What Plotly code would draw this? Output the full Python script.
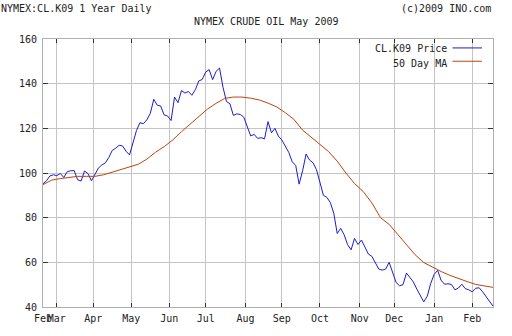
import pandas as pd
import plotly.graph_objects as go

# ---------------- text ----------------
title_left = "NYMEX:CL.K09 1 Year Daily"
title_center = "NYMEX CRUDE OIL May 2009"
copyright_text = "(c)2009 INO.com"
series_names = ["CL.K09 Price", "50 Day MA"]

# ---------------- data ----------------
start_date = "2008-02-20"
end_date = "2009-02-18"

price = [
    95.2, 96.5, 98.7, 99.2, 98.8, 99.8, 98.0, 100.6, 101.0, 101.1,
    97.0, 96.4, 100.9, 99.7, 96.5, 99.4, 102.2, 103.6, 104.5, 106.9,
    110.1, 111.1, 112.4, 112.1, 109.7, 108.1, 114.1, 119.0, 122.5, 122.1,
    123.8, 126.7, 133.0, 130.4, 130.0, 126.0, 125.5, 123.5, 134.0, 131.5,
    136.9, 135.8, 136.5, 134.8, 137.3, 141.2, 141.9, 145.2, 146.3, 141.8,
    145.5, 147.0, 138.4, 132.0, 131.0, 125.8, 126.5, 126.2, 125.0, 121.0,
    116.6, 117.3, 115.5, 115.8, 115.3, 123.0, 118.0, 120.0, 116.5, 114.8,
    112.0, 109.2, 105.0, 103.4, 95.0, 101.0, 108.5, 105.8, 104.6, 101.5,
    95.9, 90.0, 89.1, 86.8, 82.0, 72.9, 75.2, 72.3, 67.9, 65.6,
    70.7, 68.0, 70.0, 67.0, 63.7, 62.7, 60.1, 57.0, 56.5, 57.0,
    60.0, 55.9, 51.0, 49.5, 50.0, 55.2, 53.3, 51.2, 48.0, 44.8,
    42.3, 44.8, 50.5, 54.6, 56.4, 52.0, 50.2, 50.4, 50.1, 47.7,
    48.5, 50.2, 48.2, 47.7, 46.8, 48.4, 48.6, 46.8, 44.6, 42.8,
    40.4,
]

ma50 = [
    94.8, 96.8, 97.5, 98.0, 98.5, 98.5, 98.5, 99.2, 100.4, 101.6,
    102.5, 103.9, 106.2, 109.3, 111.8, 114.8, 118.5, 121.9, 125.6, 128.6,
    131.2, 133.4, 134.0, 134.0, 133.5, 132.7, 131.3, 129.6, 127.0, 124.0,
    119.2, 116.0, 112.5, 109.6, 105.3, 100.0, 95.3, 91.7, 86.6, 80.0,
    77.0, 72.5, 67.8, 63.4, 59.9, 57.8, 55.9, 54.2, 52.7, 51.4,
    50.1, 49.4, 48.8,
]

month_tick_dates = [
    "2008-02-20", "2008-03-03", "2008-04-01", "2008-05-01", "2008-06-02",
    "2008-07-01", "2008-08-01", "2008-09-01", "2008-10-01", "2008-11-03",
    "2008-12-01", "2009-01-01", "2009-02-02",
]
month_tick_labels = [
    "Feb", "Mar", "Apr", "May", "Jun", "Jul", "Aug", "Sep", "Oct", "Nov",
    "Dec", "Jan", "Feb",
]
y_ticks = [40, 60, 80, 100, 120, 140, 160]

# ---------------- build ----------------
days = pd.bdate_range(start_date, end_date)
price_dates = days[::2][: len(price)]
ma_dates = days[::5][: len(ma50)]

BLUE = "#1c1ccc"
ORANGE = "#bb4410"
GRID = "#c4c4c4"
FRAME = "#b0b0b0"
TICK = "#333333"
TEXT = "#222222"
FONT = "DejaVu Sans Mono"

fig = go.Figure()
fig.add_trace(go.Scatter(x=price_dates, y=price, mode="lines", name=series_names[0],
                         line=dict(color=BLUE, width=1)))
fig.add_trace(go.Scatter(x=ma_dates, y=ma50, mode="lines", name=series_names[1],
                         line=dict(color=ORANGE, width=1)))

fig.update_layout(
    width=512, height=336, autosize=False,
    margin=dict(l=43, r=19, t=39, b=27, pad=0),
    paper_bgcolor="white", plot_bgcolor="white",
    showlegend=False,
    font=dict(family=FONT, size=10, color=TEXT),
)

fig.update_xaxes(
    type="date",
    range=[start_date, end_date],
    rangebreaks=[dict(bounds=["sat", "mon"])],
    tickmode="array", tickvals=month_tick_dates, ticktext=month_tick_labels,
    tickangle=0,
    showgrid=True, gridcolor=GRID, gridwidth=1,
    showline=True, linecolor=FRAME, linewidth=1, mirror="ticks",
    ticks="inside", ticklen=4, tickcolor=TICK, tickwidth=1,
    tickfont=dict(family=FONT, size=10, color=TEXT),
    ticklabelstandoff=2,
    zeroline=False,
)
fig.update_yaxes(
    range=[40, 160],
    tickmode="array", tickvals=y_ticks,
    showgrid=True, gridcolor=GRID, gridwidth=1,
    showline=True, linecolor=FRAME, linewidth=1, mirror="ticks",
    ticks="inside", ticklen=5, tickcolor=TICK, tickwidth=1,
    tickfont=dict(family=FONT, size=10, color=TEXT),
    ticklabelstandoff=3,
    zeroline=False,
)

# header texts
ann = [
    dict(text=title_left, x=-0.0956, y=1.113, xanchor="left"),
    dict(text=copyright_text, x=0.998, y=1.113, xanchor="right"),
    dict(text=title_center, x=0.4956, y=1.0667, xanchor="center"),
    # legend texts
    dict(text=series_names[0], x=0.899, y=0.963, xanchor="right"),
    dict(text=series_names[1], x=0.899, y=0.910, xanchor="right"),
]
for a in ann:
    fig.add_annotation(xref="paper", yref="paper", yanchor="middle", showarrow=False,
                       font=dict(family=FONT, size=10, color=TEXT), borderpad=0, **a)

# legend box and line samples
fig.add_shape(type="rect", xref="paper", yref="paper", x0=0.693, x1=0.990, y0=0.890, y1=0.988,
              fillcolor="white", line=dict(width=0), layer="between")
fig.add_shape(type="line", xref="paper", yref="paper", x0=0.910, x1=0.9755, y0=0.9667, y1=0.9667,
              line=dict(color=BLUE, width=1))
fig.add_shape(type="line", xref="paper", yref="paper", x0=0.910, x1=0.9755, y0=0.9170, y1=0.9170,
              line=dict(color=ORANGE, width=1))

fig.write_html("out.html")
